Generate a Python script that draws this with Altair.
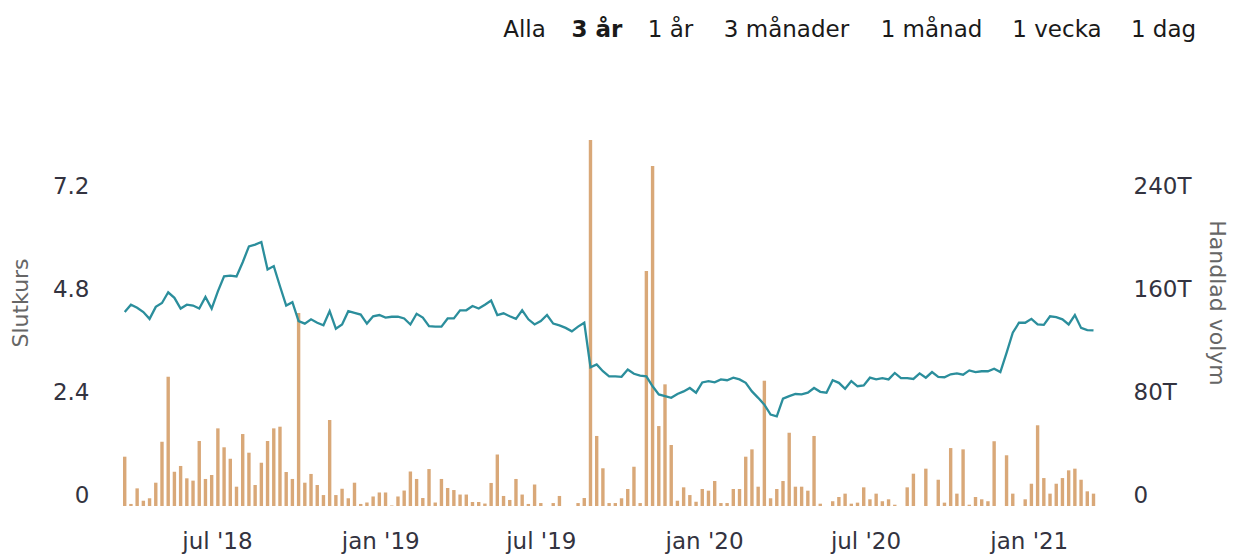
import json
import altair as alt
import pandas as pd

# ---------------- data ----------------
start_date = "2018-03-19"
n_weeks = 157
dates = pd.date_range(start_date, periods=n_weeks, freq="7D").strftime("%Y-%m-%d").tolist()

volume_k = [38.3, 1.6, 13.7, 4.1, 6.0, 18.1, 49.9, 100.4, 26.6, 31.1,
            21.5, 19.7, 50.5, 21.0, 24.1, 60.3, 45.6, 36.7, 15.0, 55.9,
            41.4, 16.3, 33.6, 50.5, 60.3, 61.6, 26.4, 21.0, 149.9, 18.1,
            24.9, 16.3, 8.5, 66.8, 8.5, 13.4, 6.0, 18.1, 1.6, 2.7,
            7.4, 10.5, 10.5, 0.4, 7.4, 12.0, 26.8, 21.0, 6.2, 28.7,
            2.7, 21.0, 14.0, 12.4, 8.9, 8.9, 3.1, 3.1, 1.9, 17.9,
            40.0, 7.8, 4.7, 21.0, 8.9, 1.6, 16.7, 2.3, 0, 2.3,
            7.8, 0, 0, 2.3, 6.2, 284.3, 54.4, 29.3, 2.3, 2.3,
            6.0, 13.2, 30.5, 2.3, 182.5, 264.1, 62.1, 94.5, 47.4, 4.1,
            14.5, 8.5, 3.3, 13.2, 11.9, 19.4, 2.3, 2.3, 13.2, 13.2,
            38.3, 44.0, 15.0, 97.3, 6.0, 13.2, 19.4, 56.9, 15.0, 15.0,
            11.9, 54.4, 1.8, 0, 3.7, 7.0, 9.6, 1.8, 2.6, 14.5,
            5.2, 9.6, 3.7, 5.2, 1.0, 0, 14.5, 25.1, 0, 29.0,
            0, 20.4, 2.6, 45.0, 9.6, 44.0, 1.0, 7.0, 5.2, 3.7,
            50.3, 0, 39.4, 9.6, 0, 5.2, 17.3, 62.7, 21.7, 9.6,
            17.3, 21.7, 27.7, 29.0, 20.4, 11.4, 9.6]

price = [4.52, 4.69, 4.62, 4.52, 4.36, 4.64, 4.73, 4.98, 4.85, 4.60,
         4.69, 4.67, 4.60, 4.87, 4.60, 5.00, 5.35, 5.37, 5.35, 5.68,
         6.05, 6.09, 6.15, 5.51, 5.59, 5.12, 4.67, 4.75, 4.31, 4.25,
         4.35, 4.27, 4.21, 4.54, 4.13, 4.23, 4.54, 4.50, 4.46, 4.25,
         4.42, 4.45, 4.39, 4.41, 4.41, 4.37, 4.23, 4.48, 4.39, 4.19,
         4.18, 4.18, 4.37, 4.37, 4.56, 4.56, 4.66, 4.60, 4.69, 4.79,
         4.45, 4.49, 4.42, 4.36, 4.56, 4.35, 4.23, 4.31, 4.45, 4.25,
         4.21, 4.15, 4.07, 4.18, 4.27, 3.23, 3.30, 3.14, 3.02, 3.02,
         3.01, 3.18, 3.08, 3.04, 3.02, 2.79, 2.60, 2.56, 2.52, 2.61,
         2.67, 2.75, 2.64, 2.88, 2.91, 2.88, 2.95, 2.93, 2.99, 2.95,
         2.87, 2.67, 2.52, 2.36, 2.13, 2.09, 2.50, 2.56, 2.61, 2.60,
         2.64, 2.75, 2.66, 2.64, 2.93, 2.87, 2.73, 2.91, 2.79, 2.81,
         2.99, 2.95, 2.98, 2.95, 3.10, 2.98, 2.98, 2.96, 3.09, 2.99,
         3.12, 3.01, 3.00, 3.07, 3.09, 3.06, 3.16, 3.12, 3.14, 3.14,
         3.20, 3.12, 3.57, 4.04, 4.27, 4.27, 4.36, 4.23, 4.22, 4.42,
         4.40, 4.35, 4.23, 4.45, 4.15, 4.10, 4.09]

tick_dates = ["2018-07-01", "2019-01-01", "2019-07-01", "2020-01-01", "2020-07-01", "2021-01-01"]
tick_labels = ["jul '18", "jan '19", "jul '19", "jan '20", "jul '20", "jan '21"]
price_ticks = [0, 2.4, 4.8, 7.2]
price_tick_labels = ["0", "2.4", "4.8", "7.2"]
volume_ticks = [0, 80, 160, 240]
volume_tick_labels = ["0", "80T", "160T", "240T"]
range_buttons = ["Alla", "3 år", "1 år", "3 månader", "1 månad", "1 vecka", "1 dag"]
active_button = "3 år"

# ---------------- layout / style ----------------
FONT = "DejaVu Sans"
LINE_COLOR = "#2b8e9c"
BAR_COLOR = "#d9a878"
LABEL_COLOR = "#333340"
TITLE_COLOR = "#666666"
PLOT_W, PLOT_H = 996, 412
x_domain = ["2018-03-10T07:00:00Z", "2021-03-25T17:00:00Z"]
button_x = [412.5, 485, 558.5, 674.5, 819.5, 945, 1051.5]
button_y = -57


def ms(d):
    return int(pd.Timestamp(d, tz="UTC").value // 10**6)


def label_expr(keys, labels, key_expr):
    expr = '""'
    for k, lab in reversed(list(zip(keys, labels))):
        expr = f"abs({key_expr} - ({k})) < 1e-6 ? {json.dumps(lab)} : ({expr})"
    return expr


df = pd.DataFrame({"date": dates, "volume": volume_k, "price": price})

x_enc = alt.X(
    "date:T",
    scale=alt.Scale(type="utc", domain=[ms(d) for d in x_domain]),
    axis=alt.Axis(
        values=[ms(d) for d in tick_dates],
        labelExpr=label_expr([ms(d) for d in tick_dates], tick_labels, "time(datum.value)"),
        title=None, ticks=False, domain=False, grid=False,
        labelPadding=24, labelFontSize=23, labelFont=FONT, labelColor=LABEL_COLOR,
        labelOverlap=False, labelFlush=False,
    ),
)

bars = alt.Chart(df).mark_bar(size=3.4, color=BAR_COLOR).encode(
    x=x_enc,
    y=alt.Y(
        "volume:Q",
        scale=alt.Scale(domain=[0, 320], nice=False, zero=True),
        axis=alt.Axis(
            orient="right", values=volume_ticks,
            labelExpr=label_expr(volume_ticks, volume_tick_labels, "datum.value"),
            title="Handlad volym", ticks=False, domain=False, grid=False,
            labelPadding=25, labelOffset=-11, labelFontSize=23, labelFont=FONT,
            labelColor=LABEL_COLOR, labelAlign="left",
            titleFont=FONT, titleFontSize=22, titleFontWeight="normal", titleColor=TITLE_COLOR,
            titleAngle=90, titleX=108, titleY=208.5, titleAlign="center", titleBaseline="middle",
        ),
    ),
)

line = alt.Chart(df).mark_line(color=LINE_COLOR, strokeWidth=2.3).encode(
    x=x_enc,
    y=alt.Y(
        "price:Q",
        scale=alt.Scale(domain=[0, 9.6], nice=False, zero=True),
        axis=alt.Axis(
            orient="left", values=price_ticks,
            labelExpr=label_expr(price_ticks, price_tick_labels, "datum.value"),
            title="Slutkurs", ticks=False, domain=False, grid=False,
            labelPadding=23, labelOffset=-11, labelFontSize=23, labelFont=FONT,
            labelColor=LABEL_COLOR,
            titleFont=FONT, titleFontSize=22, titleFontWeight="normal", titleColor=TITLE_COLOR,
            titleAngle=270, titleX=-92, titleY=208.5, titleAlign="center", titleBaseline="middle",
        ),
    ),
)

buttons = []
for lab, bx in zip(range_buttons, button_x):
    buttons.append(
        alt.Chart(pd.DataFrame({"label": [lab]})).mark_text(
            font=FONT, fontSize=23, align="center", baseline="alphabetic",
            fontWeight="bold" if lab == active_button else "normal",
            color="#1a1a1a",
        ).encode(text="label:N", x=alt.value(bx), y=alt.value(button_y))
    )

chart = alt.layer(bars, line, *buttons).resolve_scale(y="independent").properties(
    width=PLOT_W, height=PLOT_H,
    background="white",
    autosize=alt.AutoSizeParams(type="none"),
    padding={"left": 104, "top": 86, "right": 124, "bottom": 56},
).configure_view(stroke=None)

chart.save("out.html", embed_options={"renderer": "svg", "actions": False})
